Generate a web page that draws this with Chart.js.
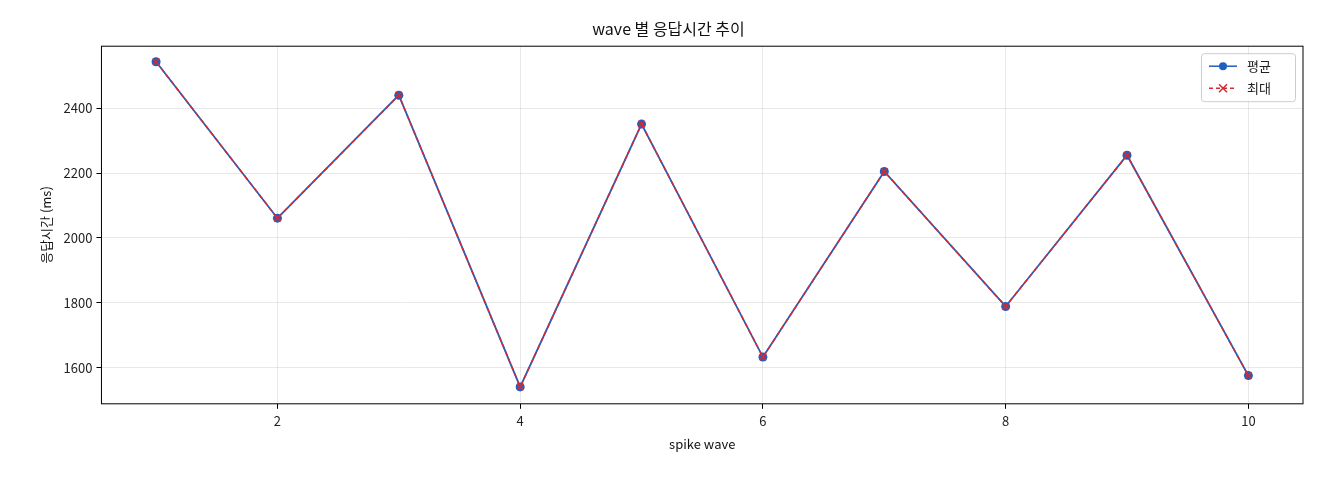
<!DOCTYPE html>
<html><head><meta charset="utf-8">
<script src="https://cdn.jsdelivr.net/npm/chart.js@4"></script>
<style>html,body{margin:0;background:#fff}#w{width:1320px;height:480px}</style>
</head><body><div id="w"><canvas id="c"></canvas></div>
<script>
const waves=[1,2,3,4,5,6,7,8,9,10];
const avgVals=[2543,2061,2440,1541,2351,1633,2205,1789,2255,1576];
const maxVals=[2543,2061,2440,1541,2351,1633,2205,1789,2255,1576];
const xTicks=[2,4,6,8,10];
const yTicks=[1600,1800,2000,2200,2400];
const F='"Noto Sans CJK KR","DejaVu Sans",sans-serif';
const legendPlugin={id:'lg',afterDraw(ch){
 const a=ch.chartArea,c=ch.ctx;const w=94,h=48,x=a.right-8-w,y=a.top+7;
 c.save();c.fillStyle='rgba(255,255,255,0.8)';c.strokeStyle='#ccc';c.lineWidth=1;
 c.beginPath();c.roundRect(x+.5,y+.5,w,h,3);c.fill();c.stroke();
 const items=[['평균','#1f5fbf',[],'c'],['최대','#d62a32',[4,3],'x']];
 items.forEach((it,i)=>{const yy=y+13+i*22;c.strokeStyle=it[1];c.lineWidth=1.5;c.setLineDash(it[2]);
 c.beginPath();c.moveTo(x+8,yy);c.lineTo(x+36,yy);c.stroke();c.setLineDash([]);
 if(it[3]=='c'){c.fillStyle=it[1];c.beginPath();c.arc(x+22,yy,4,0,7);c.fill();}
 else{c.beginPath();c.moveTo(x+18,yy-4);c.lineTo(x+26,yy+4);c.moveTo(x+26,yy-4);c.lineTo(x+18,yy+4);c.stroke();}
 c.fillStyle='#222';c.font='13px '+F;c.textBaseline='middle';c.fillText(it[0],x+46,yy);});
 c.restore();}};
const frame={id:'fr',afterDraw(ch){const a=ch.chartArea,c=ch.ctx;c.save();c.strokeStyle='#000';c.lineWidth=1;c.strokeRect(a.left,a.top,a.right-a.left,a.bottom-a.top);c.restore();}};
new Chart(document.getElementById('c'),{type:'line',
data:{datasets:[
 {label:'평균',order:1,data:waves.map((x,i)=>({x,y:avgVals[i]})),borderColor:'#1f5fbf',backgroundColor:'#1f5fbf',borderWidth:1.8,pointRadius:4.5,pointStyle:'circle',pointBorderWidth:0,tension:0},
 {label:'최대',order:0,data:waves.map((x,i)=>({x,y:maxVals[i]})),borderColor:'#d62a32',backgroundColor:'#d62a32',borderWidth:1.5,borderDash:[5,3],pointRadius:4.5,pointStyle:'crossRot',pointBorderWidth:1.5,tension:0}
]},
options:{responsive:true,maintainAspectRatio:false,animation:false,devicePixelRatio:1,
 layout:{padding:{left:34,right:17,top:11,bottom:24}},
 plugins:{legend:{display:false},tooltip:{enabled:false},
  title:{display:true,text:'wave 별 응답시간 추이',color:'#111',font:{family:F,size:16,weight:'normal'},padding:{top:8,bottom:8}}},
 scales:{
  x:{type:'linear',min:0.55,max:10.45,afterBuildTicks(s){s.ticks=xTicks.map(v=>({value:v}));},
   grid:{color:'rgba(0,0,0,0.09)',drawTicks:true,tickColor:'#000',tickLength:5},border:{display:false},
   ticks:{color:'#222',font:{family:F,size:13},padding:4,callback:v=>String(v)},
   title:{display:true,text:'spike wave',color:'#111',font:{family:F,size:13},padding:{top:4}}},
  y:{min:1489,max:2591,afterBuildTicks(s){s.ticks=yTicks.map(v=>({value:v}));},
   grid:{color:'rgba(0,0,0,0.09)',tickColor:'#000',tickLength:5},border:{display:false},
   ticks:{color:'#222',font:{family:F,size:13},padding:4,callback:v=>String(v)},
   title:{display:true,text:'응답시간 (ms)',color:'#111',font:{family:F,size:13},padding:{bottom:6}}}
 }},plugins:[legendPlugin,frame]});
</script></body></html>
